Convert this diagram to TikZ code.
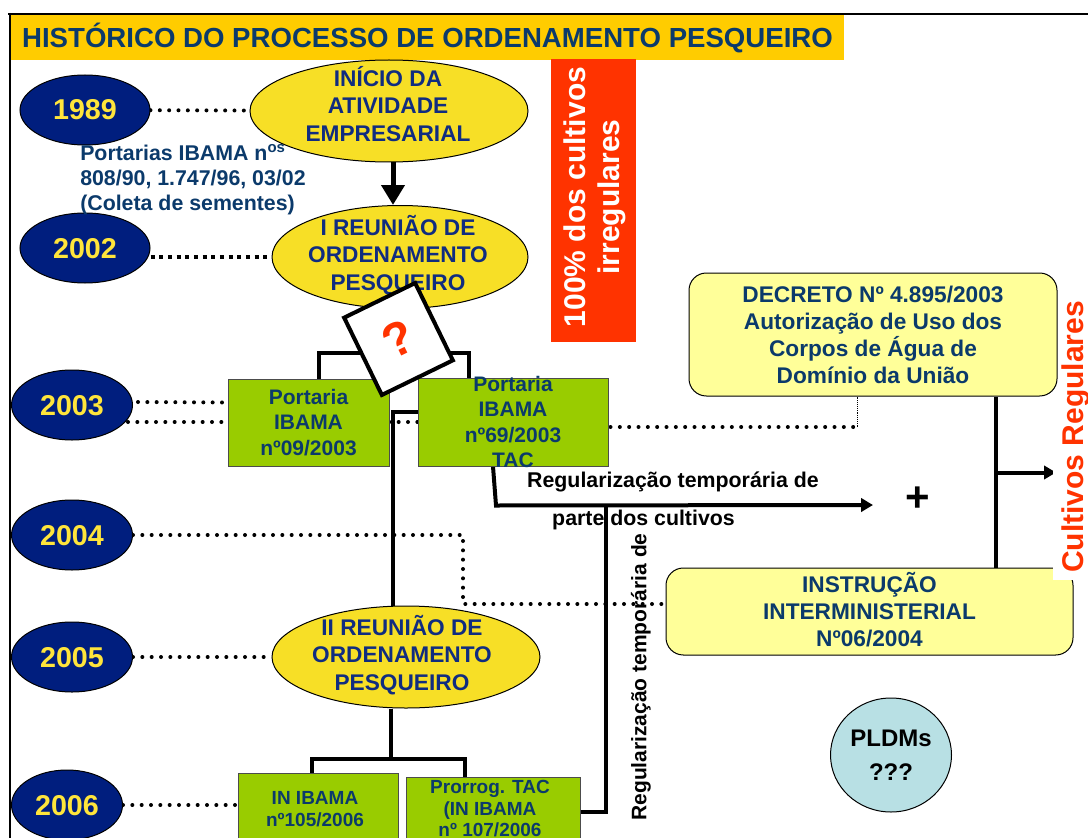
\documentclass[tikz,border=0pt]{standalone}
\usepackage{fontspec}
\setmainfont{Liberation Sans}
\usepackage{xcolor}
\usepackage{tikz}
\usetikzlibrary{positioning,arrows.meta,shapes.geometric,calc}

\definecolor{ttlyel}{HTML}{FFCC00}
\definecolor{navy}{HTML}{0B3A6B}
\definecolor{yrblue}{HTML}{001E7E}
\definecolor{yryel}{HTML}{FFE53B}
\definecolor{elyel}{HTML}{F7DF26}
\definecolor{eltxt}{HTML}{102C80}
\definecolor{grn}{HTML}{99CC00}
\definecolor{pale}{HTML}{FFFF99}
\definecolor{redor}{HTML}{FF3300}
\definecolor{pldm}{HTML}{B8E0E4}

\pgfdeclarelayer{bg}
\pgfsetlayers{bg,main}

\begin{document}
\begin{tikzpicture}[
    x=0.75pt, y=-0.75pt,
    yr/.style={ellipse, draw, line width=0.75pt, fill=yrblue, text=yryel, inner sep=0pt,
               minimum height=52.5pt, text height=15pt, text depth=0pt,
               font=\bfseries\fontsize{21.5}{24}\selectfont},
    yel/.style={ellipse, draw, line width=0.75pt, fill=elyel, inner sep=0pt},
    etxt/.style={align=center, text=eltxt, font=\bfseries\fontsize{17}{20.6}\selectfont},
    grbox/.style={draw=black!70, line width=0.75pt, fill=grn, inner sep=0pt},
    gtxt/.style={align=center, text=navy, font=\bfseries\fontsize{15.75}{19.1}\selectfont},
    note/.style={draw, line width=0.75pt, fill=pale, rounded corners=13pt, inner sep=0pt},
    ntxt/.style={align=center, text=navy, font=\bfseries\fontsize{17}{20.25}\selectfont},
    lbl/.style={font=\bfseries\fontsize{16}{19}\selectfont, inner sep=0pt},
    conn/.style={line width=3pt},
    arr/.style={conn, -{Triangle[length=9pt, width=10pt]}},
    dots/.style={line width=3pt, line cap=round, dash pattern=on 0pt off 7pt},
    sqdots/.style={line width=3pt, dash pattern=on 3pt off 3.5pt},
  ]
  \useasboundingbox (0,0) rectangle (1088,838);
  \clip (0,0) rectangle (1088,838);

  % Title bar and frame
  \node[fill=ttlyel, minimum width=624.75pt, minimum height=33.75pt, inner sep=0pt,
        text=navy, text height=14.8pt, text depth=0pt,
        font=\bfseries\fontsize{20.7}{24}\selectfont] (ttl) at (427.5,37.5)
        {HISTÓRICO DO PROCESSO DE ORDENAMENTO PESQUEIRO};
  \draw[line width=1.6pt] (8,14) -- (1088,14);
  \draw[line width=1.6pt] (10,13) -- (10,840);

  % Years
  \node[yr, minimum width=97.5pt] (y1989) at (85,110) {1989};
  \node[yr, minimum width=97.5pt] (y2002) at (85,248) {2002};
  \node[yr, minimum width=90.75pt] (y2003) at (72,405) {2003};
  \node[yr, minimum width=90.75pt] (y2004) at (72,535) {2004};
  \node[yr, minimum width=90.75pt] (y2005) at (72,657) {2005};
  \node[yr, minimum width=83.25pt] (y2006) at (67,805) {2006};

  \node[anchor=west, align=left, text=navy, inner sep=0pt,
        font=\bfseries\fontsize{16}{18.75}\selectfont] (port) at (80,180)
        {Portarias IBAMA n\textsuperscript{os}\\808/90, 1.747/96, 03/02\\(Coleta de sementes)};

  % Meetings
  \node[yel, minimum width=208.5pt, minimum height=76.5pt] (ini) at (389,111) {};
  \node[etxt] (iniT) at (388,103.7) {INÍCIO DA\\ATIVIDADE\\EMPRESARIAL};
  \node[yel, minimum width=192pt, minimum height=77.25pt] (reu1) at (400,257) {};
  \node[etxt] (reu1T) at (398,255) {I REUNIÃO DE\\ORDENAMENTO\\PESQUEIRO};
  \node[yel, minimum width=201pt, minimum height=76.5pt] (reu2) at (406,657) {};
  \node[etxt] (reu2T) at (402,655) {II REUNIÃO DE\\ORDENAMENTO\\PESQUEIRO};

  % Irregular banner
  \node[fill=redor, minimum width=63.75pt, minimum height=212.25pt, inner sep=0pt]
        (irr) at (593.5,200.5) {};
  \node[rotate=90, align=center, text=white,
        font=\bfseries\fontsize{22.5}{25.5}\selectfont] (irrT) at (595,197)
        {100\% dos cultivos\\irregulares};

  % Portarias / IN
  \node[grbox, minimum width=120.75pt, minimum height=65.25pt] (p09) at (308.5,422.5) {};
  \node[gtxt] (p09T) at (p09) {Portaria\\IBAMA\\nº09/2003};
  \node[grbox, minimum width=142.5pt, minimum height=66pt] (p69) at (513,422) {};
  \node[gtxt] (p69T) at (p69) {Portaria\\IBAMA\\nº69/2003\\TAC};
  \node[grbox, minimum width=120pt, minimum height=57.75pt] (in105) at (318,811.5) {};
  \node[gtxt, font=\bfseries\fontsize{14.25}{16.5}\selectfont] (in105T) at (315,809)
        {IN IBAMA\\nº105/2006};
  \node[grbox, minimum width=130.5pt, minimum height=55.5pt] (tac107) at (493,814) {};
  \node[gtxt, font=\bfseries\fontsize{14.25}{16.1}\selectfont] (tacT) at (490,809)
        {Prorrog. TAC\\(IN IBAMA\\nº 107/2006};

  % Decreto / Instrucao
  \node[note, minimum width=305.25pt, minimum height=65.25pt] (ins) at (869.5,611.5) {};
  \node[ntxt] (insT) at (869.5,610) {INSTRUÇÃO\\INTERMINISTERIAL\\Nº06/2004};
  \node[rotate=90, fill=white, inner xsep=5pt, inner ysep=7pt, text=redor,
        font=\bfseries\fontsize{22.5}{26}\selectfont] (cult) at (1076,437) {Cultivos Regulares};
  \node[note, minimum width=276pt, minimum height=92.25pt] (dec) at (873,334.5) {};
  \node[ntxt] (decT) at (dec)
        {DECRETO Nº 4.895/2003\\Autorização de Uso dos\\Corpos de Água de\\Domínio da União};

  \node[ellipse, draw, line width=0.75pt, fill=pldm, inner sep=0pt, minimum width=90.75pt,
        minimum height=85.5pt, align=center, font=\bfseries\fontsize{18}{25.5}\selectfont]
        (pld) at (891,755) {PLDMs\\???};

  % Labels
  \node[lbl, anchor=base] (reg1) at (673,487) {Regularização temporária de};
  \node[lbl, anchor=base] (reg2) at (643.5,525) {parte dos cultivos};
  \node[lbl, rotate=90, font=\bfseries\fontsize{15.75}{19}\selectfont] (regV) at (641,677)
        {Regularização temporária de};
  \node[font=\bfseries\fontsize{31.5}{34}\selectfont, inner sep=0pt] (plus) at (918,499) {+};
  \coordinate (regEnd) at (873,505);
  \coordinate (dk) at (857,427);

  % Question mark
  \node[draw, line width=3pt, fill=white, rotate=26, minimum width=59.25pt,
        minimum height=64.5pt, inner sep=0pt, text=redor,
        font=\bfseries\fontsize{36}{40}\selectfont] (qm) at (398.5,339) {?};

  \begin{pgfonlayer}{bg}
    % dotted year links
    \draw[dots] (y1989) -- (ini);
    \draw[sqdots] (reu1.west -| y2002.east) -- (reu1.west);
    \draw[dots] ($(y2003.east)+(5,-3)$) -- ($(p09.west)+(0,-20)$);
    \draw[dots] ($(y2003.east)+(-5,17)$) -- (p69.west);
    \draw[dots] (y2004.east) -- ++(330,0) |- ($(ins.west)+(0,-7.5)$);
    \draw[dots] (y2005) -- (reu2);
    \draw[dots] (y2006.east) -- ($(in105.west)+(10,-6.5)$);
    \draw[dots] ($(p69.east)+(2,5)$) -- (dk);
    \draw[thin, densely dotted] (dk) -- (dk |- dec.south);
    % tree
    \draw[-{Triangle[length=15pt, width=17pt]}, line width=3.75pt]
         ($(ini.south)+(4,0)$) -- ($(ini.south |- reu1.north)+(4,0)$);
    \draw[conn] (reu1.south) -- ++(0,45);
    \draw[conn] ($(p09.north)+(10,0)$) -- ++(0,-26) -| ($(p69.north)+(-44,0)$);
    \draw[conn] ($(p69.west)+(0,-10)$) -| ($(reu2.north)+(-13,0)$);
    \draw[conn] ($(reu2.south)+(-15,0)$) -- ++(0,51);
    \draw[conn] ($(in105.north)+(-6,0)$) -- ++(0,-14) -| ($(tac107.north)+(-28,0)$);
    \draw[arr] ($(p69.south)+(-20,0)$) -- ++(3,39) -- (regEnd);
    \draw[conn] ($(tac107.east)+(0,-2)$) -| ($(regEnd)+(-267,0)$);
    \draw[conn] ($(dec.south)+(123,0)$) -- ($(ins.north)+(126.5,0)$);
    \draw[arr] ($(dec.south)+(123,76)$) -- ++(60,0);
  \end{pgfonlayer}
\end{tikzpicture}
\end{document}
